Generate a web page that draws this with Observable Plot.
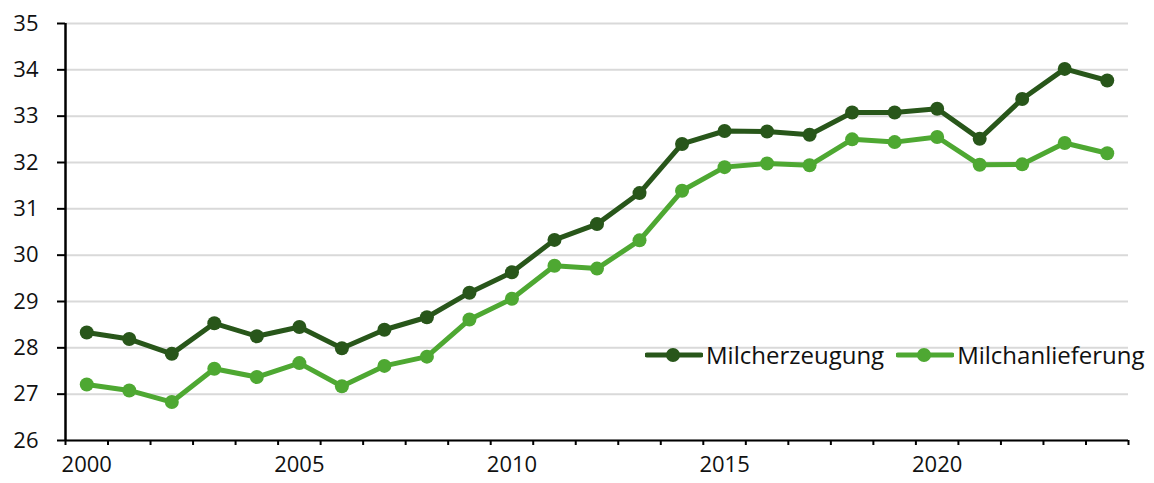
<!DOCTYPE html>
<html>
<head>
<meta charset="utf-8">
<script src="https://cdn.jsdelivr.net/npm/d3@7"></script>
<script src="https://cdn.jsdelivr.net/npm/@observablehq/plot@0.6"></script>
<style>
  html, body { margin: 0; padding: 0; background: #fff; }
  #wrap { position: relative; width: 1154px; height: 483px; font-family: "Open Sans", sans-serif; }
  #legend { position: absolute; left: 645px; top: 338px; display: flex; align-items: center; font-size: 24px; color: #111; white-space: nowrap; }
  #legend .item { display: flex; align-items: center; margin-right: 12px; }
  #legend svg { margin-right: 3px; }
</style>
</head>
<body>
<div id="wrap"></div>
<script>
const years = [2000,2001,2002,2003,2004,2005,2006,2007,2008,2009,2010,2011,2012,2013,2014,2015,2016,2017,2018,2019,2020,2021,2022,2023,2024];
const milcherzeugung = [28.33,28.19,27.87,28.53,28.25,28.45,27.99,28.39,28.66,29.19,29.63,30.33,30.67,31.34,32.40,32.68,32.67,32.60,33.08,33.08,33.16,32.51,33.37,34.02,33.77];
const milchanlieferung = [27.21,27.08,26.83,27.55,27.37,27.67,27.17,27.61,27.81,28.61,29.06,29.77,29.71,30.32,31.39,31.90,31.98,31.94,32.50,32.44,32.55,31.95,31.96,32.42,32.20];
const seriesNames = ["Milcherzeugung", "Milchanlieferung"];
const colors = ["#28561a", "#4ea832"];
const yTicks = [26,27,28,29,30,31,32,33,34,35];
const xLabels = [2000,2005,2010,2015,2020];

const data = [];
years.forEach((y, i) => {
  data.push({year: y, value: milcherzeugung[i], series: seriesNames[0]});
  data.push({year: y, value: milchanlieferung[i], series: seriesNames[1]});
});
const xBounds = [years[0] - 0.5, years[years.length - 1] + 0.5];
const yearEdges = d3.range(xBounds[0], xBounds[1] + 0.01, 1);

const chart = Plot.plot({
  width: 1154,
  height: 483,
  marginLeft: 65,
  marginRight: 26,
  marginTop: 23,
  marginBottom: 43,
  style: {fontFamily: "'Open Sans', sans-serif", fontSize: "22px", color: "#111", background: "#fff"},
  x: {domain: xBounds, label: null},
  y: {domain: [yTicks[0], yTicks[yTicks.length - 1]], label: null},
  color: {domain: seriesNames, range: colors},
  marks: [
    Plot.gridY(yTicks, {stroke: "#d9d9d9", strokeOpacity: 1, strokeWidth: 2}),
    Plot.axisY(yTicks, {tickSize: 8, tickPadding: 19, stroke: "#000", strokeWidth: 2, fontSize: 22, label: null, tickFormat: d => String(d)}),
    Plot.axisX(yearEdges, {tickSize: 5, tickFormat: () => "", stroke: "#000", strokeWidth: 2, label: null}),
    Plot.axisX(xLabels, {tickSize: 0, tickPadding: 16, fontSize: 22, label: null, tickFormat: d => String(d)}),
    Plot.ruleY([yTicks[0]], {stroke: "#000", strokeWidth: 2}),
    Plot.ruleX([xBounds[0]], {stroke: "#000", strokeWidth: 2.5}),
    Plot.line(data, {x: "year", y: "value", z: "series", stroke: "series", strokeWidth: 5}),
    Plot.dot(data, {x: "year", y: "value", fill: "series", r: 7})
  ]
});
const wrap = document.getElementById("wrap");
wrap.appendChild(chart);

const legend = document.createElement("div");
legend.id = "legend";
seriesNames.forEach((name, i) => {
  const item = document.createElement("div");
  item.className = "item";
  item.innerHTML = `<svg width="58" height="20"><line x1="2" y1="10" x2="56" y2="10" stroke="${colors[i]}" stroke-width="5" stroke-linecap="round"/><circle cx="28" cy="10" r="7" fill="${colors[i]}"/></svg><span>${name}</span>`;
  legend.appendChild(item);
});
wrap.appendChild(legend);
</script>
</body>
</html>
